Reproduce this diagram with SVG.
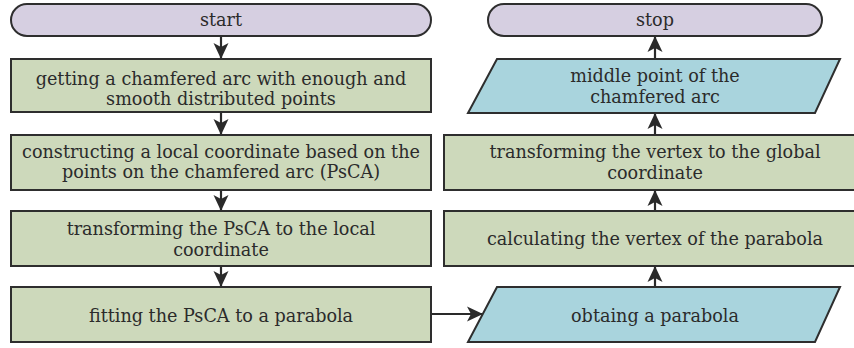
<svg xmlns="http://www.w3.org/2000/svg" width="854" height="348" viewBox="0 0 854 348">
<style>
.term{fill:#d6cfe1;stroke:#2e2e2e;stroke-width:2}
.proc{fill:#cdd9bb;stroke:#2e2e2e;stroke-width:2}
.io{fill:#a9d4dd;stroke:#2e2e2e;stroke-width:2}
.t{font-family:'DejaVu Serif','Liberation Serif',serif;font-size:17.6px;fill:#2b2b2b;text-anchor:middle}
.conn{stroke:#2a2a2a;stroke-width:2.2;fill:none}
</style>
<defs>
<marker id="ah" viewBox="0 0 16 16" refX="15" refY="8" markerWidth="16" markerHeight="16" markerUnits="userSpaceOnUse" orient="auto">
<path d="M0,0.5 L16,8 L0,15.5 L4,8 Z" fill="#2a2a2a"/>
</marker>
</defs>
<rect x="0" y="0" width="854" height="348" fill="#ffffff"/>
<g id="connectors">
<line class="conn" x1="221" y1="37" x2="221" y2="58" marker-end="url(#ah)"/>
<line class="conn" x1="221" y1="113" x2="221" y2="134" marker-end="url(#ah)"/>
<line class="conn" x1="221" y1="191" x2="221" y2="210" marker-end="url(#ah)"/>
<line class="conn" x1="221" y1="267" x2="221" y2="286" marker-end="url(#ah)"/>
<line class="conn" x1="432" y1="314" x2="482" y2="314" marker-end="url(#ah)"/>
<line class="conn" x1="655" y1="286" x2="655" y2="267" marker-end="url(#ah)"/>
<line class="conn" x1="655" y1="210" x2="655" y2="191" marker-end="url(#ah)"/>
<line class="conn" x1="655" y1="134" x2="655" y2="114" marker-end="url(#ah)"/>
<line class="conn" x1="655" y1="58" x2="655" y2="37" marker-end="url(#ah)"/>
</g>
<g id="start">
<rect class="term" x="11" y="4" width="420" height="32" rx="16"/>
<text class="t" x="221" y="26">start</text>
</g>
<g id="step1">
<rect class="proc" x="11" y="59" width="420" height="53"/>
<text class="t" x="221" y="85">getting a chamfered arc with enough and</text>
<text class="t" x="221" y="105">smooth distributed points</text>
</g>
<g id="step2">
<rect class="proc" x="11" y="135" width="420" height="55"/>
<text class="t" x="221" y="158">constructing a local coordinate based on the</text>
<text class="t" x="221" y="178">points on the chamfered arc (PsCA)</text>
</g>
<g id="step3">
<rect class="proc" x="11" y="211" width="420" height="55"/>
<text class="t" x="221" y="235">transforming the PsCA to the local</text>
<text class="t" x="221" y="256">coordinate</text>
</g>
<g id="step4">
<rect class="proc" x="11" y="287" width="420" height="55"/>
<text class="t" x="221" y="322">fitting the PsCA to a parabola</text>
</g>
<g id="obtain">
<polygon class="io" points="497,287 840,287 815,342 468,342"/>
<text class="t" x="655" y="322">obtaing a parabola</text>
</g>
<g id="vertex">
<rect class="proc" x="444" y="211" width="420" height="55"/>
<text class="t" x="655" y="245">calculating the vertex of the parabola</text>
</g>
<g id="transform">
<rect class="proc" x="444" y="135" width="420" height="55"/>
<text class="t" x="655" y="158">transforming  the vertex to the global</text>
<text class="t" x="655" y="179">coordinate</text>
</g>
<g id="middle">
<polygon class="io" points="497,59 840,59 815,113 468,113"/>
<text class="t" x="655" y="82">middle point of the</text>
<text class="t" x="655" y="103">chamfered arc</text>
</g>
<g id="stop">
<rect class="term" x="488" y="4" width="334" height="32" rx="16"/>
<text class="t" x="655" y="26">stop</text>
</g>
</svg>
